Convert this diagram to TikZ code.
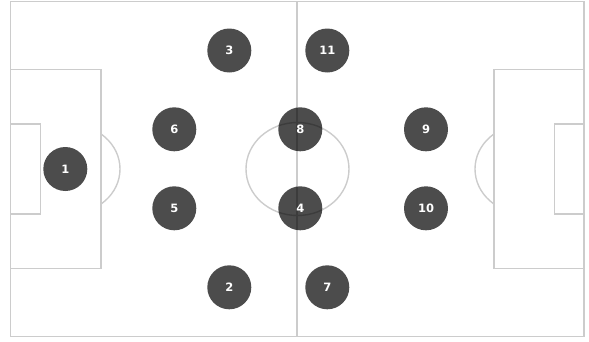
\documentclass[tikz,border=0pt]{standalone}
\usepackage{fontspec}
\newfontfamily\playerfont{DejaVu Sans}
\begin{document}
\begin{tikzpicture}[x=1pt,y=-1pt,
  pitchline/.style={draw=black!20,line width=1.4pt},
  player/.style={circle,fill=black,fill opacity=0.7,text opacity=1,text=white,
    minimum size=44pt,inner sep=0pt,font=\playerfont\bfseries\fontsize{11.5}{12}\selectfont}]
\useasboundingbox (0,0) rectangle (589,341);
% pitch outline and halfway line
\draw[pitchline] (10.5,1.5) rectangle (584,336.5);
\draw[pitchline] (297,1.5) -- (297,336.5);
% centre circle
\draw[pitchline] (297.5,169) ellipse [x radius=51.5, y radius=46.5];
% left penalty area and goal area
\draw[pitchline] (10.5,69.5) -- (100.8,69.5) -- (100.8,268.5) -- (10.5,268.5);
\draw[pitchline] (10.5,124) -- (40.5,124) -- (40.5,214) -- (10.5,214);
% right penalty area and goal area
\draw[pitchline] (584,69.5) -- (494,69.5) -- (494,268.5) -- (584,268.5);
\draw[pitchline] (584,124) -- (554.5,124) -- (554.5,214) -- (584,214);
% penalty arcs
\begin{scope}
\clip (100.8,0) rectangle (200,341);
\draw[pitchline] (70.5,169) ellipse [x radius=49.5, y radius=44.5];
\end{scope}
\begin{scope}
\clip (380,0) rectangle (494,341);
\draw[pitchline] (524.5,169) ellipse [x radius=49.5, y radius=44.5];
\end{scope}
% players
\node[player] (p1) at (65.3,169) {1};
\node[player] (p6) at (174.3,129.3) {6};
\node[player] (p5) at (174.3,208.3) {5};
\node[player] (p3) at (229.3,50.5) {3};
\node[player] (p2) at (229.3,287.3) {2};
\node[player] (p11) at (327.3,50.5) {11};
\node[player] (p7) at (327.3,287.3) {7};
\node[player] (p8) at (300.3,129.3) {8};
\node[player] (p4) at (300.3,208.3) {4};
\node[player] (p9) at (426,129.3) {9};
\node[player] (p10) at (426,208.3) {10};
\end{tikzpicture}
\end{document}
